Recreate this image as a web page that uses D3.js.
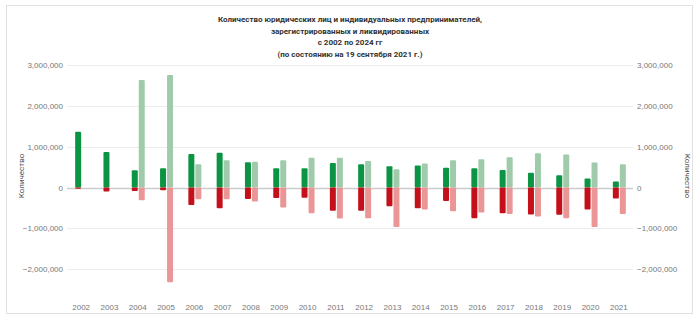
<!DOCTYPE html>
<html><head><meta charset="utf-8">
<script src="https://cdn.jsdelivr.net/npm/d3@7"></script>
<style>body{margin:0;background:#fff;}svg{display:block;font-family:Roboto,"Liberation Sans",Arial,sans-serif;}</style>
</head><body><svg id="c" width="700" height="322"></svg>
<script>
const years = ["2002","2003","2004","2005","2006","2007","2008","2009","2010","2011","2012","2013","2014","2015","2016","2017","2018","2019","2020","2021"];
const regLegal = [1367000,870000,420000,470000,820000,850000,620000,470000,470000,600000,570000,520000,540000,485000,470000,430000,360000,300000,220000,150000];
const liqLegal = [-30000,-100000,-85000,-70000,-430000,-510000,-280000,-260000,-250000,-570000,-570000,-460000,-510000,-330000,-750000,-630000,-660000,-670000,-540000,-270000];
const regIP = [0,0,2630000,2755000,570000,670000,630000,670000,730000,730000,650000,450000,590000,670000,690000,740000,840000,810000,610000,570000];
const liqIP = [0,0,-310000,-2320000,-290000,-290000,-340000,-490000,-630000,-760000,-750000,-970000,-540000,-580000,-610000,-650000,-710000,-750000,-970000,-650000];
const yTicks = [-2000000,-1000000,0,1000000,2000000,3000000];
const titleLines = ["Количество юридических лиц и индивидуальных предпринимателей,","зарегистрированных и ликвидированных","с 2002 по 2024 гг","(по состоянию на 19 сентября 2021 г.)"];
const axisTitle = "Количество";

const svg = d3.select("#c");
svg.append("rect").attr("x",6.5).attr("y",5.5).attr("width",686).attr("height",308)
  .attr("fill","none").attr("stroke","#e0e0e0");

const left=67, right=633;
const x0 = d3.scaleBand().domain(years).range([left,right]);
const bw = x0.bandwidth();
const x1 = d3.scaleBand().domain(["legal","ip"]).range([bw/2-6, bw/2+7]).paddingInner(1/7);
const y = d3.scaleLinear().domain([-3000000,3000000]).range([310,65]);
const fmt = d3.format(",");

// grid
svg.append("g").selectAll("line").data(yTicks.concat([3000000]).filter((v,i,a)=>a.indexOf(v)===i)).join("line")
  .attr("x1",left).attr("x2",right).attr("y1",d=>Math.round(y(d))+0.5).attr("y2",d=>Math.round(y(d))+0.5)
  .attr("stroke",d=>d===0?"#cccccc":"#ececec").attr("stroke-width",d=>d===0?1.5:1);

// left axis labels
const la = d3.axisLeft(y).tickValues(yTicks).tickFormat(fmt).tickSize(0).tickPadding(0);
const gl = svg.append("g").attr("transform",`translate(63,0)`).call(la);
gl.select(".domain").remove();
gl.selectAll("text").attr("fill","#777").style("font-size","8px");
const ra = d3.axisRight(y).tickValues(yTicks).tickFormat(fmt).tickSize(0).tickPadding(0);
const gr = svg.append("g").attr("transform",`translate(637,0)`).call(ra);
gr.select(".domain").remove();
gr.selectAll("text").attr("fill","#777").style("font-size","8px");

// x axis labels
const xa = d3.axisBottom(x0).tickSize(0).tickPadding(0);
const gx = svg.append("g").attr("transform",`translate(0,304)`).call(xa);
gx.select(".domain").remove();
gx.selectAll("text").attr("fill","#777").style("font-size","8px");

function bars(data, key, color){
  svg.append("g").selectAll("rect").data(data.map((v,i)=>({v,i}))).join("rect")
    .filter(d=>d.v!==0)
    .attr("x",d=>x0(years[d.i])+x1(key))
    .attr("width",x1.bandwidth())
    .attr("y",d=>Math.min(y(d.v),y(0)))
    .attr("height",d=>Math.abs(y(d.v)-y(0)))
    .attr("rx",1).attr("fill",color);
}
bars(regLegal,"legal","#0b9444");
bars(liqLegal,"legal","#c4101a");
bars(regIP,"ip","#9fcbab");
bars(liqIP,"ip","#eb9696");

// title
const t = svg.append("text").attr("text-anchor","middle").attr("fill","#333")
  .style("font-size","8px").style("font-weight","bold");
titleLines.forEach((s,i)=>t.append("tspan").attr("x",350).attr("y",22+i*11.5).text(s));

// axis titles
svg.append("text").attr("transform","translate(24,176) rotate(-90)").attr("text-anchor","middle")
  .attr("fill","#555").style("font-size","8px").text(axisTitle);
svg.append("text").attr("transform","translate(685,176) rotate(90)").attr("text-anchor","middle")
  .attr("fill","#555").style("font-size","8px").text(axisTitle);
</script></body></html>
